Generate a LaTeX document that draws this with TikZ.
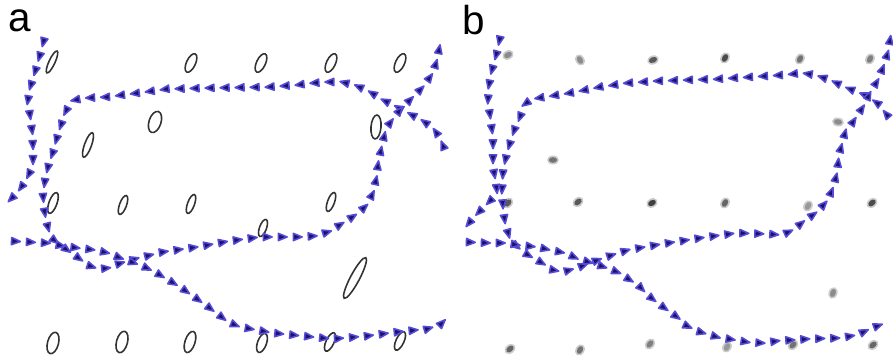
\documentclass[tikz,border=0pt]{standalone}
\usepackage{fontspec}
\setmainfont{Liberation Sans}
\usetikzlibrary{decorations.markings}

\definecolor{tipblue}{RGB}{28,18,105}
\definecolor{glowblue}{RGB}{85,75,215}

\begin{document}
\begin{tikzpicture}[
    x=0.01cm, y=-0.01cm,
    flowline/.style={postaction={decorate}, decoration={markings,
        mark=between positions 0.012 and 1 step 0.15cm with {
          \fill[tipblue, draw=glowblue, line width=0.45pt, line join=round]
            (0.048cm,0pt) -- (-0.04cm,0.036cm) -- (-0.04cm,-0.036cm) -- cycle;}}},
    cell/.style={draw=black!80, line width=0.45pt},
    panel/.style={font=\fontsize{11.5}{13}\selectfont, anchor=base west, inner sep=0pt},
]
\useasboundingbox (0,0) rectangle (893,359);

\node[panel] (labA) at (8,32) {a};
\node[panel] (labB) at (462,35) {b};

% panel a: outlined cells
\foreach \ex/\ey/\ea/\ra/\rb in {52/62/65/12/3, 191/63/65/10/4.5, 261/63/65/10/4.5,
    331/63/65/10/4.5, 400/63/65/10/4.5, 155/122/72/11/6, 88/145/70/13/3.5,
    376/127/85/12/5, 53/203/70/11/4, 123/205/70/10/3.5, 191/204/70/10/3.5,
    331/202/70/10/3.5, 263/228/70/9/3.5, 355/278/62/23/4.5, 53/343/75/11/5.5,
    122/342/75/11/5.5, 190/342/72/11/5, 262/343/70/10/4.5, 330/342/65/10/4, 400/341/65/10/4}
  \draw[cell, shift={(\ex,\ey)}, rotate=\ea] (0,0) ellipse [x radius=\ra, y radius=\rb];

% panel b: blurred spots
\foreach \sx/\sy/\sa/\sk in {508/55/30/45, 580/60/-60/45, 653/60/20/65, 725/58/60/70,
    800/59/60/55, 870/59/60/50, 838/122/-10/45, 553/160/0/55, 508/203/50/65,
    578/202/40/65, 652/203/30/75, 725/203/60/60, 808/206/60/40, 872/203/40/70,
    833/293/70/45, 510/349/40/60, 580/350/60/55, 650/344/50/50, 727/347/60/40,
    793/345/45/55, 873/345/40/60} {
  \fill[black!20, shift={(\sx,\sy)}, rotate=\sa] (0,0) ellipse [x radius=6, y radius=4.5];
  \fill[black!\sk, shift={(\sx,\sy)}, rotate=\sa] (0,0) ellipse [x radius=4.2, y radius=2.8];
}

% panel a: tracks
\path[flowline] plot coordinates {(44,40) (40,55) (35,72) (30,88) (28,100) (30,115)
    (32,130) (33,147) (33,160) (30,172) (25,182) (17,193) (8,202)};
\path[flowline] plot coordinates {(446,158) (444,148) (440,138) (433,128) (423,121)
    (412,115) (397,107) (383,100) (370,92) (357,86) (342,82) (328,82) (313,83) (297,85)
    (268,87) (208,88) (167,89) (138,93) (107,97) (85,98) (75,100) (69,105) (65,113)
    (61,125) (58,134) (53,152) (48,167) (45,180) (43,195) (44,208) (46,220) (49,231)
    (54,240) (63,247) (77,257) (90,266) (99,269) (108,268) (118,264) (135,259) (163,252)
    (197,247) (230,241) (260,237) (300,237) (315,236) (328,232) (343,223) (357,214)
    (367,205) (373,193) (376,180) (378,165) (381,150) (385,133) (390,123) (400,110)
    (412,98) (423,87) (433,73) (437,60) (440,45)};
\path[flowline] plot coordinates {(10,241) (47,243) (63,246) (78,248) (95,250)
    (108,253) (123,259) (140,265) (153,271) (165,278) (180,287) (207,306) (228,322)
    (240,327) (257,330) (273,333) (303,336) (333,339) (367,336) (397,332) (427,329)
    (440,325) (447,318)};

% panel b: tracks
\path[flowline] plot coordinates {(500,38) (497,52) (492,70) (489,85) (488,100)
    (490,115) (492,130) (493,143) (493,160) (494,172) (496,183) (497,192) (491,200)
    (483,208) (474,217) (465,228)};
\path[flowline] plot coordinates {(893,125) (887,115) (877,103) (867,96) (857,92)
    (845,87) (830,80) (815,75) (802,73) (783,75) (718,79) (657,81) (628,83) (600,87)
    (570,93) (545,97) (532,99) (525,104) (520,117) (515,128) (510,143) (506,157)
    (503,172) (502,190) (503,208) (505,222) (509,236) (515,245) (528,255) (542,263)
    (553,270) (563,272) (577,268) (603,258) (628,250) (662,244) (707,237) (737,233)
    (767,234) (782,235) (793,230) (803,222) (817,212) (828,200) (834,185) (837,173)
    (839,155) (845,133) (853,122) (863,107) (870,93) (878,80) (884,65) (888,52) (890,40)};
\path[flowline] plot coordinates {(465,242) (490,243) (505,243) (518,245) (537,247)
    (550,250) (565,253) (578,259) (592,263) (607,268) (617,272) (630,280) (640,287)
    (650,297) (663,307) (677,317) (687,326) (700,332) (717,337) (747,342) (762,343)
    (777,341) (808,339) (840,338) (857,335) (872,328) (891,321)};
\end{tikzpicture}
\end{document}
